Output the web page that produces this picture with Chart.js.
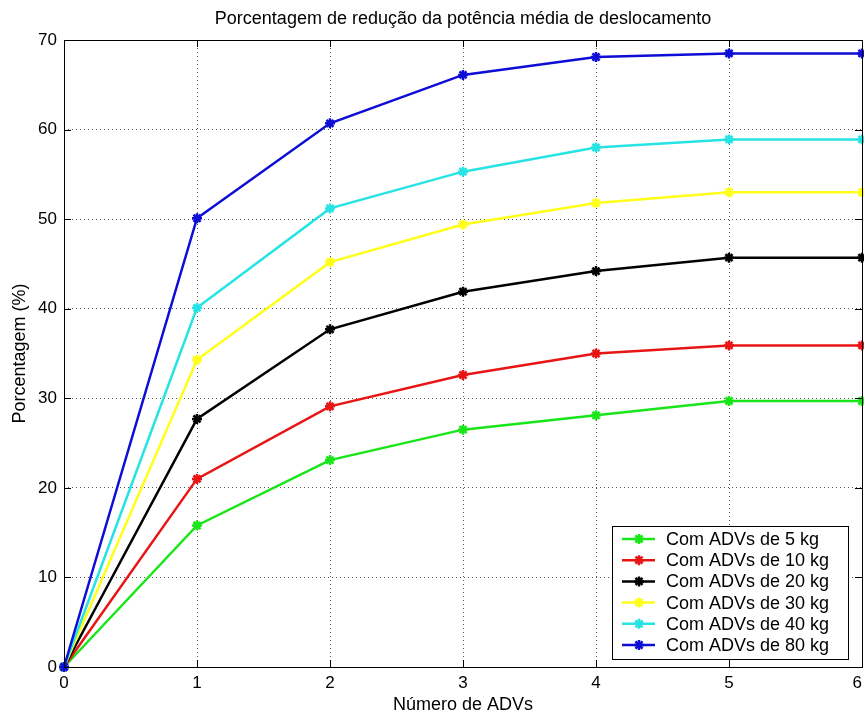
<!DOCTYPE html>
<html>
<head>
<meta charset="utf-8">
<script src="https://cdn.jsdelivr.net/npm/chart.js@4"></script>
<style>
  html, body { margin: 0; padding: 0; background: #fff; }
  #wrap { width: 864px; height: 718px; }
</style>
</head>
<body>
<div id="wrap"><canvas id="reduction-chart" width="864" height="718"></canvas></div>
<script>
// number of ADVs on the x axis
const advCounts = [0, 1, 2, 3, 4, 5, 6];

// percentage reduction per ADV mass
const with5kg  = [0, 15.8, 23.1, 26.5, 28.1, 29.7, 29.7];
const with10kg = [0, 21.0, 29.1, 32.6, 35.0, 35.9, 35.9];
const with20kg = [0, 27.7, 37.7, 41.9, 44.2, 45.7, 45.7];
const with30kg = [0, 34.3, 45.2, 49.4, 51.8, 53.0, 53.0];
const with40kg = [0, 40.1, 51.2, 55.3, 58.0, 58.9, 58.9];
const with80kg = [0, 50.1, 60.7, 66.1, 68.1, 68.5, 68.5];

const seriesLabels = [
  'Com ADVs de 5 kg', 'Com ADVs de 10 kg', 'Com ADVs de 20 kg',
  'Com ADVs de 30 kg', 'Com ADVs de 40 kg', 'Com ADVs de 80 kg'
];
const seriesValues = [with5kg, with10kg, with20kg, with30kg, with40kg, with80kg];
const seriesColors = ['#19e619', '#e81515', '#000000', '#ffff1a', '#27e3e3', '#0d0dd6'];

const chartTitle = 'Porcentagem de redução da potência média de deslocamento';
const FONT = 'Liberation Sans, Arial, sans-serif';

const datasets = seriesValues.map((vals, i) => ({
  label: seriesLabels[i],
  data: vals.map((v, j) => ({ x: advCounts[j], y: v })),
  borderColor: seriesColors[i],
  backgroundColor: seriesColors[i],
  borderWidth: 2.5,
  pointStyle: 'star',
  pointRadius: 5,
  pointBorderWidth: 2.5,
  pointBorderColor: seriesColors[i],
  tension: 0,
  clip: false,
  order: seriesValues.length - i
}));

// box around the plot area plus inward tick marks (matlab look)
const boxPlugin = {
  id: 'box',
  afterDatasetsDraw(chart) {
    const { ctx, chartArea: a, scales } = chart;
    ctx.save();
    ctx.strokeStyle = '#000';
    ctx.lineWidth = 1;
    ctx.beginPath();
    scales.x.ticks.forEach(t => {
      const px = Math.round(scales.x.getPixelForValue(t.value)) + 0.5;
      ctx.moveTo(px, a.bottom); ctx.lineTo(px, a.bottom - 7);
      ctx.moveTo(px, a.top); ctx.lineTo(px, a.top + 7);
    });
    scales.y.ticks.forEach(t => {
      const py = Math.round(scales.y.getPixelForValue(t.value)) + 0.5;
      ctx.moveTo(a.left, py); ctx.lineTo(a.left + 7, py);
      ctx.moveTo(a.right, py); ctx.lineTo(a.right - 7, py);
    });
    ctx.stroke();
    ctx.strokeRect(Math.round(a.left) + 0.5, Math.round(a.top) + 0.5,
      Math.round(a.right - a.left), Math.round(a.bottom - a.top));

    // x tick labels, the last one kept inside the canvas
    ctx.fillStyle = '#000';
    ctx.font = '17px ' + FONT;
    ctx.textAlign = 'center';
    ctx.textBaseline = 'middle';
    scales.x.ticks.forEach(t => {
      const txt = String(t.value);
      const half = ctx.measureText(txt).width / 2;
      let px = scales.x.getPixelForValue(t.value);
      px = Math.min(px, chart.width - 2 - half);
      ctx.fillText(txt, px, a.bottom + 16);
    });

    // title centred over the plot area
    ctx.font = '18px ' + FONT;
    ctx.fillText(chartTitle, (a.left + a.right) / 2, 19);
    ctx.restore();
  }
};

// legend drawn inside the lower right corner of the plot
const insideLegend = {
  id: 'insideLegend',
  afterDraw(chart) {
    const { ctx, chartArea: a } = chart;
    const w = 236, rowH = 21.2, h = 133;
    const x0 = a.right - 14 - w, y0 = a.bottom - 8 - h;
    ctx.save();
    ctx.fillStyle = '#fff';
    ctx.fillRect(x0, y0, w, h);
    ctx.strokeStyle = '#000';
    ctx.lineWidth = 1;
    ctx.strokeRect(Math.round(x0) + 0.5, Math.round(y0) + 0.5, w, h);
    ctx.font = '18px ' + FONT;
    ctx.textBaseline = 'middle';
    seriesLabels.forEach((lab, i) => {
      const cy = y0 + 13 + i * rowH;
      ctx.strokeStyle = seriesColors[i];
      ctx.lineWidth = 2.5;
      ctx.beginPath();
      ctx.moveTo(x0 + 10, cy); ctx.lineTo(x0 + 43, cy);
      ctx.stroke();
      // star marker
      ctx.beginPath();
      for (let k = 0; k < 4; k++) {
        const ang = k * Math.PI / 4;
        ctx.moveTo(x0 + 27 - 5 * Math.cos(ang), cy - 5 * Math.sin(ang));
        ctx.lineTo(x0 + 27 + 5 * Math.cos(ang), cy + 5 * Math.sin(ang));
      }
      ctx.stroke();
      ctx.fillStyle = '#000';
      ctx.fillText(lab, x0 + 54, cy + 1);
    });
    ctx.restore();
  }
};

new Chart(document.getElementById('reduction-chart'), {
  type: 'line',
  data: { datasets },
  plugins: [boxPlugin, insideLegend],
  options: {
    responsive: false,
    animation: false,
    layout: { autoPadding: false, padding: { left: 0, right: 2, top: 40, bottom: 0 } },
    plugins: {
      legend: { display: false },
      tooltip: { enabled: false },
      title: { display: false }
    },
    scales: {
      x: {
        type: 'linear',
        min: 0,
        max: 6,
        ticks: { stepSize: 1, display: false },
        grid: { color: '#555', drawTicks: false, lineWidth: 1 },
        border: { display: false, dash: [1, 3] },
        title: {
          display: true,
          text: 'Número de ADVs',
          color: '#000',
          font: { family: FONT, size: 18 },
          padding: { top: 2, bottom: 2 }
        },
        afterFit(scale) {
          scale.height = 51;
          scale.paddingLeft = 0;
          scale.paddingRight = 0;
        }
      },
      y: {
        min: 0,
        max: 70,
        ticks: { stepSize: 10, color: '#000', font: { family: FONT, size: 17 }, padding: 7 },
        grid: { color: '#555', drawTicks: false, lineWidth: 1 },
        border: { display: false, dash: [1, 3] },
        title: {
          display: true,
          text: 'Porcentagem (%)',
          color: '#000',
          font: { family: FONT, size: 18 },
          padding: { top: 9, bottom: 9 }
        },
        afterFit(scale) {
          scale.width = 64;
          scale.paddingTop = 0;
          scale.paddingBottom = 0;
        }
      }
    }
  }
});
</script>
</body>
</html>
